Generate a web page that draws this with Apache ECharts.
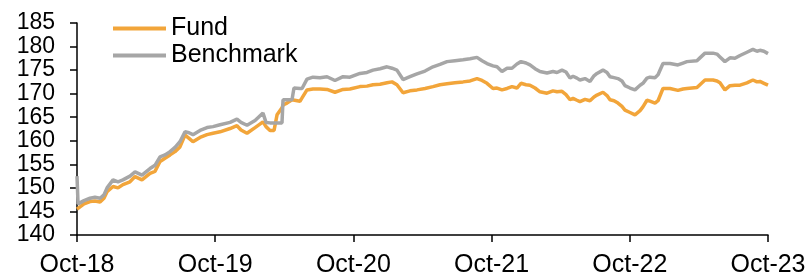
<!DOCTYPE html>
<html>
<head>
<meta charset="utf-8">
<script src="https://cdn.jsdelivr.net/npm/echarts@6/dist/echarts.min.js"></script>
<style>
  html, body { margin: 0; padding: 0; background: #fff; }
  #chart { width: 810px; height: 278px; }
</style>
</head>
<body>
<div id="chart"></div>
<script>
// months since Oct-18
var months = [0, 0.09, 0.61, 1.13, 1.56, 2.00, 2.34, 2.61, 3.13, 3.56, 3.99, 4.60, 5.04, 5.64, 6.34, 6.77, 7.21, 7.64, 8.08, 8.51,
  8.94, 9.38, 9.73, 10.07, 10.68, 11.29, 11.81, 12.42, 13.29, 13.89, 14.24, 14.76, 15.46, 16.15, 16.41, 16.76, 17.11, 17.37, 17.80, 17.89,
  18.23, 18.67, 18.84, 19.36, 19.54, 19.97, 20.49, 21.10, 21.71, 22.40, 23.10, 23.70, 24.57, 25.18, 25.70, 26.31, 26.92, 27.35, 27.78, 28.31,
  28.91, 29.52, 30.22, 30.91, 31.52, 32.13, 32.82, 33.52, 34.13, 34.73, 35.17, 35.60, 36.12, 36.47, 36.90, 37.34, 37.77, 38.20, 38.55, 38.99,
  39.33, 39.77, 40.20, 40.81, 41.33, 41.68, 42.11, 42.46, 42.81, 43.07, 43.41, 43.67, 44.11, 44.54, 44.89, 45.15, 45.67, 46.02, 46.28, 46.63,
  46.97, 47.32, 47.58, 48.02, 48.45, 48.89, 49.14, 49.49, 49.75, 50.19, 50.45, 50.88, 51.49, 52.18, 52.62, 52.96, 53.83, 54.09, 54.53, 55.22,
  55.57, 55.83, 56.26, 56.70, 57.13, 57.57, 58.17, 58.69, 59.04, 59.30, 59.65, 60.00]

var fund = [145.5, 145.8, 146.6, 147.1, 147.2, 147.0, 147.8, 149.2, 150.3, 150.0, 150.7, 151.3, 152.4, 151.7, 153.1, 153.5, 155.6, 156.3, 157.0, 157.7,
  158.7, 161.2, 160.5, 159.8, 160.7, 161.3, 161.6, 161.9, 162.6, 163.2, 162.3, 161.6, 162.8, 164.0, 163.0, 162.2, 162.2, 165.5, 167.0, 167.6,
  168.0, 168.7, 168.7, 168.4, 169.1, 170.8, 171.0, 171.0, 170.9, 170.3, 170.9, 171.0, 171.5, 171.6, 171.9, 172.0, 172.3, 172.5, 171.9, 170.2,
  170.6, 170.8, 171.1, 171.5, 171.9, 172.1, 172.3, 172.5, 172.7, 173.2, 172.8, 172.2, 171.1, 171.2, 170.8, 171.1, 171.5, 171.2, 172.2, 171.9,
  171.8, 171.2, 170.4, 170.1, 170.6, 170.4, 170.5, 169.8, 168.7, 169.0, 168.6, 168.3, 168.8, 168.5, 169.3, 169.7, 170.3, 169.6, 168.7, 168.5,
  168.0, 167.3, 166.5, 166.0, 165.5, 166.4, 167.2, 168.6, 168.4, 168.0, 168.5, 171.1, 171.1, 170.7, 171.0, 171.1, 171.3, 171.9, 172.9, 172.9,
  172.7, 172.3, 170.8, 171.7, 171.8, 171.8, 172.3, 172.9, 172.5, 172.6, 172.2, 171.8]

var benchmark = [152.5, 146.6, 147.3, 147.8, 148.0, 147.8, 148.5, 150.0, 151.7, 151.3, 151.7, 152.5, 153.4, 152.7, 154.1, 154.8, 156.6, 157.0, 157.7, 158.6,
  159.8, 161.9, 161.7, 161.3, 162.2, 162.8, 163.0, 163.4, 163.9, 164.6, 163.9, 163.3, 164.3, 165.9, 163.9, 163.8, 163.8, 163.8, 163.8, 168.7,
  168.7, 168.7, 171.2, 171.1, 171.1, 173.1, 173.5, 173.4, 173.6, 172.8, 173.6, 173.5, 174.3, 174.5, 175.0, 175.3, 175.7, 175.4, 175.0, 173.0,
  173.6, 174.2, 174.8, 175.7, 176.2, 176.8, 177.0, 177.2, 177.4, 177.7, 177.0, 176.4, 175.9, 175.7, 174.7, 175.4, 175.4, 176.3, 176.8, 176.5,
  176.1, 175.3, 174.7, 174.4, 174.7, 174.5, 175.0, 174.6, 173.3, 173.7, 173.3, 172.9, 173.2, 172.6, 173.8, 174.3, 175.0, 174.5, 173.6, 173.4,
  173.2, 172.7, 171.7, 171.2, 170.8, 171.8, 172.2, 173.3, 173.5, 173.4, 174.0, 176.4, 176.4, 176.1, 176.5, 176.8, 177.0, 177.6, 178.6, 178.6,
  178.4, 177.8, 176.8, 177.6, 177.5, 178.1, 178.8, 179.4, 179.0, 179.2, 179.0, 178.5]

var xTickLabels = ['Oct-18', 'Oct-19', 'Oct-20', 'Oct-21', 'Oct-22', 'Oct-23']

var FONT = 'Liberation Sans, Arial, sans-serif'

function pairs(xs, ys) {
  var out = []
  for (var i = 0; i < xs.length; i++) {
    out.push([xs[i], ys[i]])
  }
  return out
}

function initChart() {
  var chart = echarts.init(document.getElementById('chart'))
  var option = {
    animation: false,
    color: ['#F2A53A', '#A6A6A6'],
    grid: {
      left: 77,
      right: 42,
      top: 23,
      bottom: 43
    },
    legend: {
      data: ['Fund', 'Benchmark'],
      orient: 'vertical',
      left: 108,
      top: 11,
      icon: 'rect',
      itemWidth: 53,
      itemHeight: 4,
      itemGap: 2,
      textStyle: {
        fontFamily: FONT,
        fontSize: 25,
        lineHeight: 25,
        color: '#000'
      }
    },
    xAxis: {
      type: 'value',
      min: 0,
      max: 60,
      interval: 12,
      splitLine: { show: false },
      axisLine: { lineStyle: { color: '#000', width: 1.5 } },
      axisTick: { show: true, length: 7, lineStyle: { color: '#000', width: 1.5 } },
      axisLabel: {
        margin: 18,
        fontFamily: FONT,
        fontSize: 25,
        color: '#000',
        showMinLabel: true,
        showMaxLabel: true,
        formatter: function (v) {
          return xTickLabels[Math.round(v / 12)]
        }
      }
    },
    yAxis: {
      type: 'value',
      min: 140,
      max: 185,
      interval: 5,
      splitLine: { show: false },
      axisLine: { show: true, lineStyle: { color: '#000', width: 1.5 } },
      axisTick: { show: true, length: 7, lineStyle: { color: '#000', width: 1.5 } },
      axisLabel: {
        margin: 22,
        fontFamily: FONT,
        fontSize: 23,
        color: '#000',
        showMinLabel: true,
        showMaxLabel: true
      }
    },
    series: [
      {
        name: 'Fund',
        type: 'line',
        showSymbol: false,
        lineStyle: { width: 3.5 },
        data: pairs(months, fund)
      },
      {
        name: 'Benchmark',
        type: 'line',
        showSymbol: false,
        lineStyle: { width: 3.5 },
        data: pairs(months, benchmark)
      }
    ]
  }
  chart.setOption(option)
  return chart
}

initChart()
</script>
</body>
</html>
